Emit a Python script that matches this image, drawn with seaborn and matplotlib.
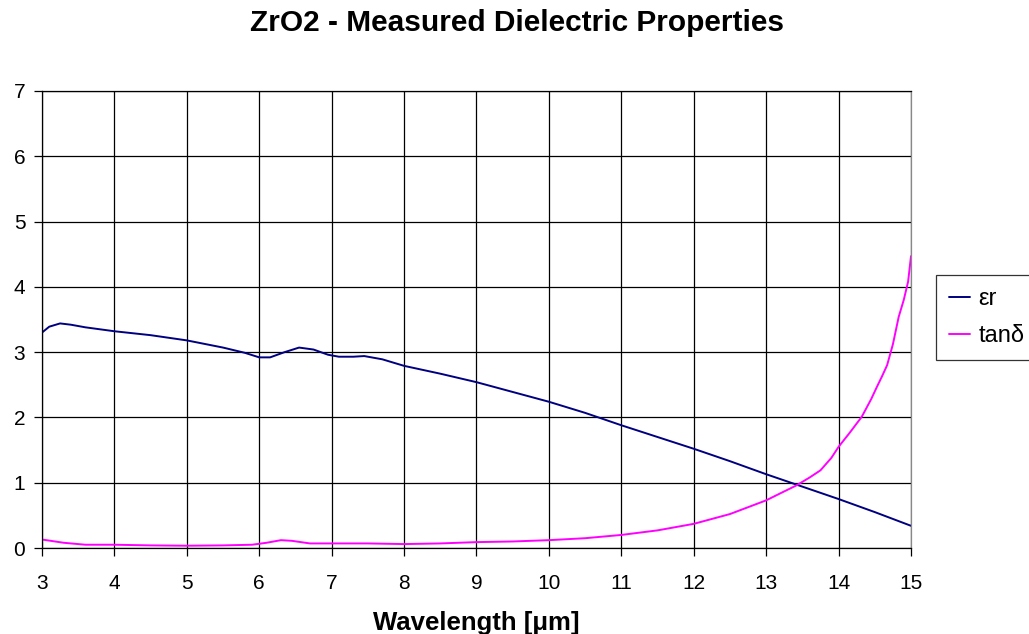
import matplotlib
matplotlib.use("Agg")
import matplotlib.pyplot as plt
import seaborn as sns
import pandas as pd

# Data
er_x = [3.0, 3.1, 3.25, 3.4, 3.6, 4.0, 4.5, 5.0, 5.5, 5.8, 6.0, 6.15, 6.35, 6.55, 6.75,
        6.95, 7.1, 7.3, 7.45, 7.7, 8.0, 8.5, 9.0, 9.5, 10.0, 10.5, 11.0, 11.5, 12.0,
        12.5, 13.0, 13.5, 14.0, 14.5, 15.0]
er_y = [3.30, 3.39, 3.44, 3.42, 3.38, 3.32, 3.26, 3.18, 3.07, 2.99, 2.92, 2.92, 3.00,
        3.07, 3.04, 2.96, 2.93, 2.93, 2.94, 2.89, 2.79, 2.67, 2.54, 2.39, 2.24, 2.07,
        1.88, 1.70, 1.52, 1.33, 1.13, 0.94, 0.75, 0.55, 0.34]
tan_x = [3.0, 3.3, 3.6, 4.0, 4.5, 5.0, 5.5, 5.9, 6.1, 6.3, 6.45, 6.7, 7.0, 7.5, 8.0,
         8.5, 9.0, 9.5, 10.0, 10.5, 11.0, 11.5, 12.0, 12.5, 13.0, 13.2, 13.42, 13.6,
         13.75, 13.9, 14.0, 14.15, 14.32, 14.45, 14.53, 14.6, 14.67, 14.75, 14.83,
         14.9, 14.96, 15.0]
tan_y = [0.13, 0.08, 0.05, 0.05, 0.04, 0.035, 0.04, 0.05, 0.08, 0.12, 0.11, 0.07, 0.07,
         0.07, 0.06, 0.07, 0.09, 0.10, 0.12, 0.15, 0.20, 0.27, 0.37, 0.52, 0.73, 0.84,
         0.96, 1.08, 1.19, 1.38, 1.55, 1.76, 2.01, 2.28, 2.47, 2.63, 2.80, 3.12, 3.54,
         3.80, 4.08, 4.47]
series_names = ["εr", "tanδ"]
x_ticks = list(range(3, 16))
y_ticks = list(range(0, 8))

df = pd.concat([
    pd.DataFrame({"x": er_x, "y": er_y, "series": series_names[0]}),
    pd.DataFrame({"x": tan_x, "y": tan_y, "series": series_names[1]}),
])

sns.set_style("white")
plt.rcParams["font.family"] = ["Liberation Sans", "DejaVu Sans"]
plt.rcParams["text.color"] = "black"
plt.rcParams["xtick.color"] = "black"
plt.rcParams["ytick.color"] = "black"
plt.rcParams["axes.labelcolor"] = "black"

fig = plt.figure(figsize=(10.29, 6.34), dpi=100)
ax = fig.add_axes([42/1029, 1-548/634, (911-42)/1029, (548-91)/634])

sns.lineplot(data=df, x="x", y="y", hue="series", palette=["#000080", "#FF00FF"],
             linewidth=1.4, ax=ax, sort=False, legend=True)

ax.set_xlim(3, 15)
ax.set_ylim(0, 7)
ax.set_xticks(x_ticks)
ax.set_yticks(y_ticks)
ax.grid(True, color="black", linewidth=0.9)
ax.set_axisbelow(True)
for s in ax.spines.values():
    s.set_color("black")
    s.set_linewidth(0.9)
ax.spines["right"].set_color("#888888")
ax.tick_params(axis="both", which="major", length=6, width=0.9, color="black",
               labelsize=15, labelcolor="black", direction="out", bottom=True, left=True)
ax.tick_params(axis="x", pad=13)
ax.tick_params(axis="y", pad=6)
ax.set_xlabel("Wavelength [μm]", fontsize=18.5, fontweight="bold", labelpad=13,
              color="black")
ax.set_ylabel("")
fig.text(517/1029, 1-31/634, "ZrO2 - Measured Dielectric Properties", ha="center",
         va="baseline", fontsize=21.5, fontweight="bold", color="black")

leg = ax.legend(loc="upper left", bbox_to_anchor=(936/1029, 1-275/634),
                bbox_transform=fig.transFigure, fontsize=17, frameon=True,
                fancybox=False, edgecolor="black", handlelength=0.9,
                handletextpad=0.35, borderpad=0.55, labelspacing=0.65,
                borderaxespad=0)
leg.get_frame().set_linewidth(0.9)
for t in leg.get_texts():
    t.set_color("black")

fig.savefig("out.png", dpi=100)
